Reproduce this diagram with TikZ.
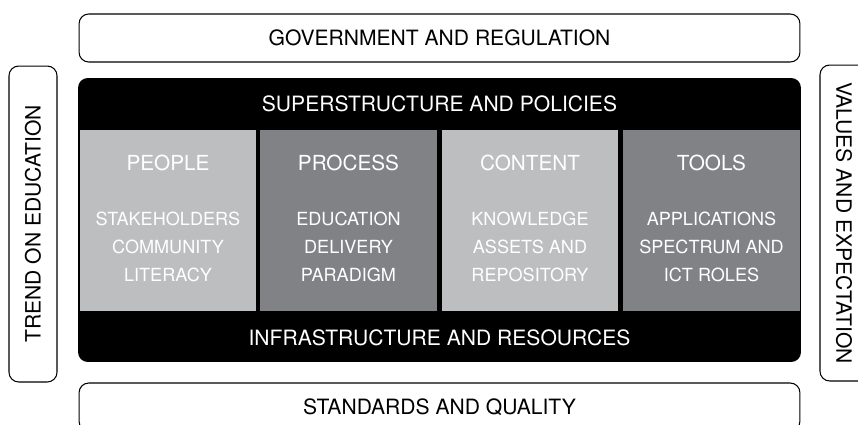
\documentclass[tikz,border=0pt]{standalone}
\usepackage{fontspec}
\setmainfont{TeX Gyre Heros}
\definecolor{lightgrey}{HTML}{BCBEC0}
\definecolor{darkgrey}{HTML}{808285}
\tikzset{
  framebox/.style={draw, line width=0.6pt, rounded corners=5.5pt, minimum width=14.42cm, minimum height=0.96cm, font=\fontsize{12}{14}\selectfont},
  sidebox/.style={draw, line width=0.6pt, rounded corners=5.5pt, minimum width=6.32cm, minimum height=0.96cm, font=\fontsize{12}{14}\selectfont},
  pillar/.style={minimum width=3.54cm, minimum height=3.62cm, inner sep=0pt},
  whitetext/.style={text=white, font=\fontsize{10.3}{15.9}\selectfont, align=center},
}
\begin{document}
\begin{tikzpicture}[x=0.02cm, y=-0.02cm, line join=round, line cap=round]
				\useasboundingbox (0,0) rectangle (858,424);
				\clip (0,0) rectangle (858,424);
				% outer frame
				\node[framebox] (gov) at (439.5,38) {GOVERNMENT AND REGULATION};
				\node[framebox] (std) at (439.5,407) {STANDARDS AND QUALITY};
				\node[sidebox, rotate=90] (trend) at (33,224) {TREND ON EDUCATION};
				\node[sidebox, rotate=-90] (values) at (844,223) {VALUES AND EXPECTATION};
				% core
				\node[fill=black, rounded corners=5.5pt, minimum width=14.46cm, minimum height=5.68cm] (core) at (439.5,220) {};
				\node[whitetext, font=\fontsize{12}{14}\selectfont] (super) at (439.5,104) {SUPERSTRUCTURE AND POLICIES};
				\node[whitetext, font=\fontsize{12}{14}\selectfont] (infra) at (439.5,338) {INFRASTRUCTURE AND RESOURCES};
				\foreach\n/\x/\c/\h/\b in {people/168/lightgrey/PEOPLE/{STAKEHOLDERS\\COMMUNITY\\LITERACY},
				process/348.5/darkgrey/PROCESS/{EDUCATION\\DELIVERY\\PARADIGM},
				content/530/lightgrey/CONTENT/{KNOWLEDGE\\ASSETS AND\\REPOSITORY},
				tools/711.5/darkgrey/TOOLS/{APPLICATIONS\\SPECTRUM AND\\ICT ROLES}}{
					\node[pillar, fill=\c] (\n) at (\x,220.5) {};
					\node[whitetext, font=\fontsize{11.8}{14}\selectfont] (\n-head) at (\x,163) {\h};
					\node[whitetext] (\n-body) at (\x,247) {\b};
				}
			\end{tikzpicture}
\end{document}
